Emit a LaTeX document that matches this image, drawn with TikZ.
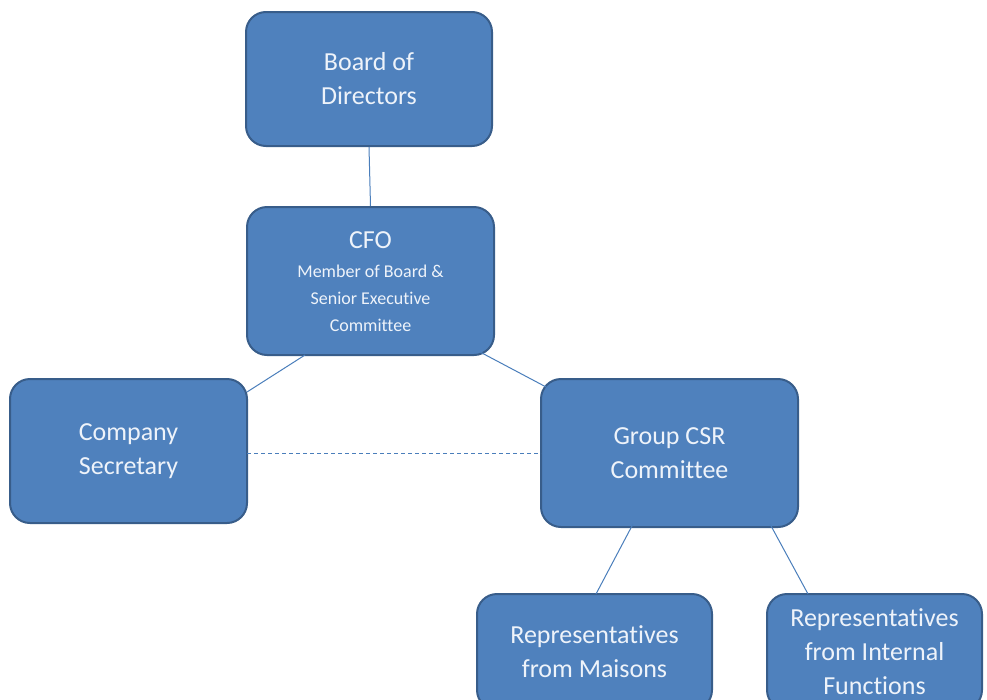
\documentclass[tikz,border=0pt]{standalone}
\usepackage{fontspec}
\setmainfont{Carlito}[Ligatures=NoCommon]
\definecolor{boxfill}{HTML}{4F81BD}
\definecolor{boxline}{HTML}{385D8A}
\definecolor{linkc}{HTML}{4A7EBB}
\definecolor{txtc}{HTML}{EEF3FA}
\begin{document}
\begin{tikzpicture}[x=1pt,y=-1pt,
  orgbox/.style={draw=boxline, line width=2pt, fill=boxfill, rounded corners=20pt,
    text=txtc, font=\fontsize{26}{34}\selectfont, align=center, inner sep=0pt},
  link/.style={draw=linkc, line width=1pt}]
\useasboundingbox (0,0) rectangle (987,699);
\clip (0,0) rectangle (987,699);
\node[orgbox, minimum width=246pt, minimum height=134pt] (board) at (369,79) {Board of\\Directors};
\node[orgbox, minimum width=247pt, minimum height=148pt] (cfo) at (370.5,281) {\rule{0pt}{26pt}CFO\\[9pt]{\fontsize{18}{27}\selectfont\begin{tabular}{@{}c@{}}Member of Board \&\\Senior Executive\\Committee\end{tabular}}};
\node[orgbox, minimum width=237pt, minimum height=144pt] (sec) at (128.5,451) {Company\\Secretary};
\node[orgbox, minimum width=257pt, minimum height=148pt] (csr) at (669.5,453) {Group CSR\\Committee};
\node[orgbox, minimum width=235pt, minimum height=116pt] (mai) at (594.5,652) {Representatives\\from Maisons};
\node[orgbox, minimum width=215pt, minimum height=116pt] (int) at (874.5,652) {Representatives\\from Internal\\Functions};
\coordinate (c1) at (305,355);
\coordinate (s1) at (247,392);
\coordinate (c2) at (480,352);
\coordinate (c3) at (548,388);
\coordinate (h1) at (247,453);
\coordinate (h2) at (541,453);
\coordinate (d1) at (633,524);
\coordinate (e1) at (596,594);
\coordinate (d2) at (770,524);
\coordinate (e2) at (808,594);
\draw[link] (board.south) -- (cfo.north);
\draw[link] (c1) -- (s1);
\draw[link] (c2) -- (c3);
\draw[link, dash pattern=on 4pt off 3pt] (h1) -- (h2);
\draw[link] (d1) -- (e1);
\draw[link] (d2) -- (e2);
\end{tikzpicture}
\end{document}
